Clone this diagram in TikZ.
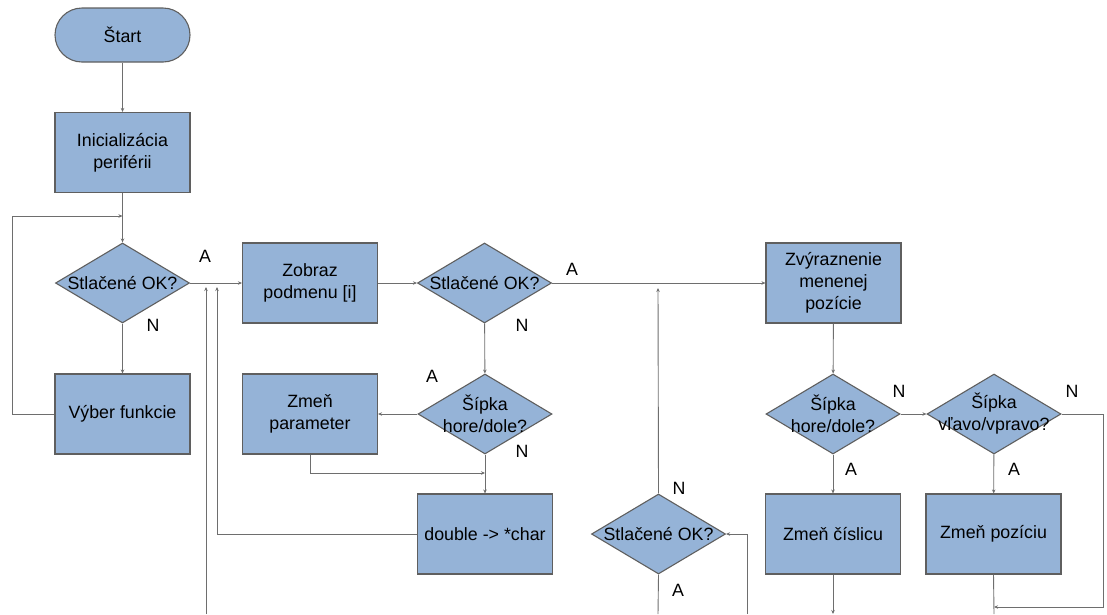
\documentclass[tikz,border=0pt]{standalone}
\usepackage{fontspec}
\setmainfont{Liberation Sans}
\usetikzlibrary{shapes.geometric,arrows.meta}
\definecolor{boxfill}{RGB}{149,179,215}
\definecolor{boxline}{RGB}{95,95,95}
\definecolor{conn}{RGB}{110,110,110}
\tikzset{
  x=1pt,y=-1pt,
  every node/.style={font=\fontsize{17.8}{22}\selectfont, text=black},
  procbox/.style={draw=boxline, line width=1.1pt, fill=boxfill, minimum width=135pt, minimum height=80pt, inner sep=0pt, align=center},
  startbox/.style={draw=boxline, line width=1.1pt, fill=boxfill, minimum width=135pt, minimum height=54pt, inner sep=0pt, rounded corners=27pt},
  dec/.style={diamond, draw=boxline, line width=1.1pt, fill=boxfill, minimum width=134pt, minimum height=80pt, inner sep=0pt, aspect=1.675},
  lbl/.style={align=center, inner sep=0pt},
  conn/.style={draw=conn, line width=0.9pt, -{Stealth[length=4pt,width=3.5pt]}},
  plain/.style={draw=conn, line width=0.9pt},
  yn/.style={inner sep=0pt}
}
\begin{document}
\begin{tikzpicture}
\useasboundingbox (0,0) rectangle (1107,614);
% nodes
\node[startbox] (start) at (122.5,35) {Štart};
\node[procbox] (init) at (122.5,152.5) {Inicializácia\\periférii};
\node[dec, label={[lbl]center:Stlačené OK?}] (d1) at (122.5,283) {};
\node[procbox] (vyber) at (122.5,414) {Výber funkcie};
\node[procbox] (zobraz) at (310,283) {Zobraz\\podmenu [i]};
\node[dec, label={[lbl]center:Stlačené OK?}] (d2) at (484.5,283) {};
\node[dec, label={[lbl]center:Šípka\\hore/dole?}] (d3) at (485,414) {};
\node[procbox] (param) at (310,414) {Zmeň\\parameter};
\node[procbox] (dbl) at (485,534) {double -> *char};
\node[dec, label={[lbl]center:Stlačené OK?}] (d4) at (658.5,534) {};
\node[procbox] (zvyr) at (833.5,283) {Zvýraznenie\\menenej\\pozície};
\node[dec, label={[lbl]center:Šípka\\hore/dole?}] (d5) at (833,414) {};
\node[dec, label={[lbl]center:Šípka\\vľavo/vpravo?}] (d6) at (994,414) {};
\node[procbox] (cis) at (833,534) {Zmeň číslicu};
\node[procbox] (poz) at (993.5,534) {Zmeň pozíciu};
% coordinates
\coordinate (loopL) at (12,414);
\coordinate (loopT) at (12,216);
\coordinate (loopE) at (122.5,216);
\coordinate (ret1b) at (206,614);
\coordinate (ret1t) at (206,287);
\coordinate (ret2b) at (217,534);
\coordinate (ret2t) at (217,287);
\coordinate (parB) at (310,473);
\coordinate (parE) at (485,473);
\coordinate (d4t) at (658,288);
\coordinate (d4b) at (658,614);
\coordinate (r4b) at (747,614);
\coordinate (r4t) at (747,534);
\coordinate (r6a) at (1103,414);
\coordinate (r6b) at (1103,607);
\coordinate (r6c) at (994,607);
\coordinate (cisB) at (833,614);
\coordinate (pozB) at (994,614);
% connectors
\path[conn] (start) -- (init);
\path[conn] (init) -- (d1);
\path[conn] (vyber.west) -- (loopL) -- (loopT) -- (loopE);
\path[conn] (d1) -- (vyber);
\path[conn] (d1) -- (zobraz);
\path[conn] (ret1b) -- (ret1t);
\path[conn] (dbl.west) -- (ret2b) -- (ret2t);
\path[conn] (zobraz) -- (d2);
\path[conn] (d2.east) -- (zvyr.west);
\path[conn] (d2) -- (d3);
\path[conn] (d3) -- (param);
\path[conn] (param.south) -- (parB) -- (parE);
\path[conn] (d3) -- (dbl);
\path[conn] (d4.north) -- (d4t);
\path[plain] (d4.south) -- (d4b);
\path[conn] (r4b) -- (r4t) -- (d4.east);
\path[conn] (zvyr) -- (d5);
\path[conn] (d5) -- (d6);
\path[conn] (d6.east) -- (r6a) -- (r6b) -- (r6c);
\path[conn] (d5) -- (cis);
\path[conn] (d6) -- (poz);
\path[conn] (cis.south) -- (cisB);
\path[plain] (poz.south) -- (pozB);
% labels
\node[yn] (la1) at (205,256) {A};
\node[yn] (ln1) at (153,325) {N};
\node[yn] (la2) at (572,269) {A};
\node[yn] (ln2) at (522,325) {N};
\node[yn] (la3) at (432,376) {A};
\node[yn] (ln3) at (522,451) {N};
\node[yn] (ln4) at (679,488) {N};
\node[yn] (la4) at (678,590) {A};
\node[yn] (ln5) at (899,391) {N};
\node[yn] (ln6) at (1072,391) {N};
\node[yn] (la5) at (851,469) {A};
\node[yn] (la6) at (1014,469) {A};
\end{tikzpicture}
\end{document}
